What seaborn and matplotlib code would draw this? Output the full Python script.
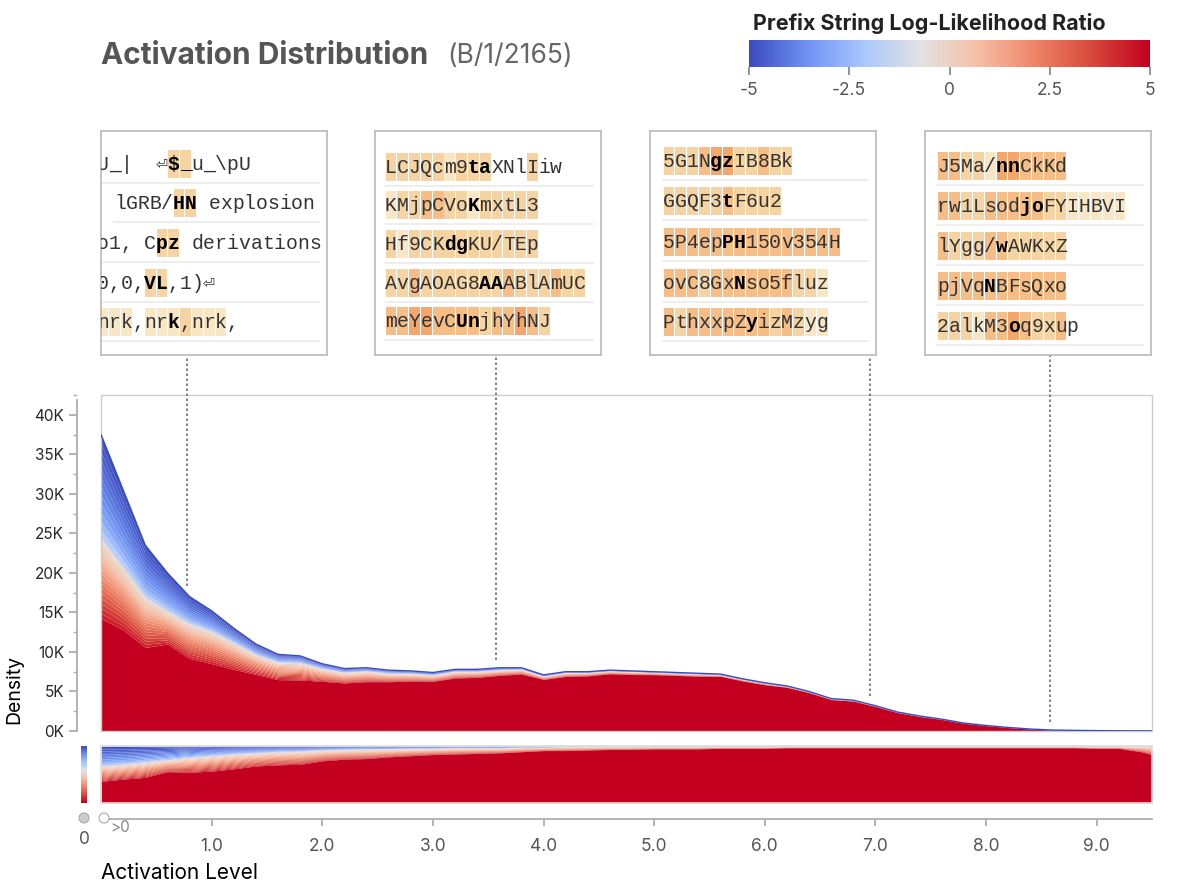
import numpy as np
import pandas as pd
import matplotlib.pyplot as plt
import seaborn as sns
from matplotlib.patches import Rectangle, Circle
from matplotlib.colors import LinearSegmentedColormap, Normalize
from matplotlib.lines import Line2D

# activation histogram (density, thousands) and LLR composition
act_x = [0.0, 0.2, 0.4, 0.6, 0.8, 1.0, 1.2, 1.4, 1.6, 1.8, 2.0, 2.2, 2.4, 2.6, 2.8, 3.0,
         3.2, 3.4, 3.6, 3.8, 4.0, 4.2, 4.4, 4.6, 4.8, 5.0, 5.2, 5.4, 5.6, 5.8, 6.0, 6.2,
         6.4, 6.6, 6.8, 7.0, 7.2, 7.4, 7.6, 7.8, 8.0, 8.2, 8.4, 8.6, 8.8, 9.0, 9.2, 9.4, 9.5]
density_k = [37.5, 30.5, 23.5, 20.0, 17.0, 15.2, 13.0, 11.0, 9.7, 9.5, 8.5, 7.9, 8.0, 7.7, 7.6, 7.4,
             7.8, 7.8, 8.0, 8.0, 7.1, 7.5, 7.5, 7.7, 7.6, 7.5, 7.4, 7.3, 7.2, 6.6, 6.1, 5.7,
             5.0, 4.1, 3.9, 3.2, 2.4, 1.9, 1.5, 1.0, 0.7, 0.45, 0.25, 0.12, 0.08, 0.05, 0.03, 0.02, 0.02]
frac_red = [0.38, 0.42, 0.45, 0.55, 0.54, 0.56, 0.60, 0.65, 0.67, 0.68, 0.74, 0.77, 0.78, 0.81, 0.83, 0.85,
            0.86, 0.87, 0.88, 0.90, 0.92, 0.92, 0.93, 0.94, 0.94, 0.95, 0.95, 0.95, 0.96, 0.96, 0.96, 0.97,
            0.97, 0.97, 0.97, 0.97, 0.97, 0.97, 0.97, 0.97, 0.97, 0.97, 0.97, 0.97, 0.97, 0.96, 0.96, 0.90, 0.85]
frac_blue = [0.35, 0.32, 0.28, 0.24, 0.20, 0.17, 0.14, 0.12, 0.10, 0.09, 0.07, 0.06, 0.05, 0.05, 0.04, 0.04,
             0.03, 0.03, 0.03, 0.02, 0.02, 0.01, 0.01, 0.01, 0.01, 0.01, 0.01, 0.01, 0.01, 0.01, 0.01, 0.01,
             0.01, 0.01, 0.01, 0.01, 0.01, 0.01, 0.01, 0.01, 0.01, 0.01, 0.01, 0.01, 0.01, 0.01, 0.01, 0.0, 0.0]

y_ticks = [0, 5, 10, 15, 20, 25, 30, 35, 40]
x_ticks = [1.0, 2.0, 3.0, 4.0, 5.0, 6.0, 7.0, 8.0, 9.0]
cbar_ticks = [-5, -2.5, 0, 2.5, 5]

# example boxes: activation position, lines, highlight levels, bold span
example_x = [0.78, 3.57, 6.95, 8.58]
example_lines = [
    ["U_|  \u23ce$_u_\\pU", "lGRB/HN explosion", "o1, Cpz derivations", "0,0,VL,1)\u23ce", "nrk,nrk,nrk,"],
    ["LCJQcm9taXNlIiw", "KMjpCVoKmxtL3", "Hf9CKdgKU/TEp", "AvgAOAG8AAABlAmUC", "meYevCUnjhYhNJ"],
    ["5G1NgzIB8Bk", "GGQF3tF6u2", "5P4epPH150v354H", "ovC8GxNso5fluz", "PthxxpZyizMzyg"],
    ["J5Ma/nnCkKd", "rw1LsodjoFYIHBVI", "lYgg/wAWKxZ", "pjVqNBFsQxo", "2alkM3oq9xup"],
]
example_levels = [
    ["000000220000", "00000220000000000", "0000022000000000000", "0000220000", "111011121110"],
    ["222221222000200", "1223322122222", "2122222222222", "22322222223222322", "33443333233432"],
    ["22234422322", "2222232222", "333333333333333", "33323333333221", "32333333323211"],
    ["33221443333", "3322333332211111", "32223322222", "33333333333", "22213343223"],
]
example_bold = [
    [(6, 8), (5, 7), (5, 7), (4, 6), (6, 7)],
    [(7, 9), (7, 8), (5, 7), (8, 10), (6, 8)],
    [(4, 6), (5, 6), (5, 7), (6, 7), (7, 8)],
    [(5, 7), (7, 9), (5, 6), (4, 5), (6, 7)],
]

W, H = 1188, 891
sns.set_theme(style="white")
plt.rcParams['font.family'] = ['Inter', 'DejaVu Sans']

fig = plt.figure(figsize=(W / 100, H / 100), dpi=100)


def px_axes(l, t, w, h):
    return fig.add_axes([l / W, 1 - (t + h) / H, w / W, h / H])


cols = ['#3b4cc0', '#6f92f3', '#aac7fd', '#e3e3e3', '#f6bfa6', '#ee8468', '#d6493b', '#c40020']
cmap = LinearSegmentedColormap.from_list('llr', cols)
norm = Normalize(-5, 5)
red = '#c40020'

x = np.array(act_x)
fr = np.array(frac_red)
fb = np.array(frac_blue)


def draw_stack(ax, total):
    ax.fill_between(x, 0, total * fr, color=red, lw=0)
    n1, n2 = 16, 12
    top_mid = 1 - fb
    for k in range(n1):
        a = fr + (top_mid - fr) * k / n1
        b = fr + (top_mid - fr) * (k + 1) / n1
        v = 4.5 - 5.0 * (k + 0.5) / n1
        ax.fill_between(x, total * a, total * b, color=cmap(norm(v)), lw=0)
    for k in range(n2):
        a = top_mid + fb * k / n2
        b = top_mid + fb * (k + 1) / n2
        v = -0.5 - 4.5 * ((k + 0.5) / n2) ** 0.4
        ax.fill_between(x, total * a, total * b, color=cmap(norm(v)), lw=0)


# main density chart
ax = px_axes(101, 395, 1051, 336)
tot = np.array(density_k)
draw_stack(ax, tot)
df = pd.DataFrame({'x': act_x, 'y': density_k})
sns.lineplot(data=df, x='x', y='y', ax=ax, color='#3b4cc0', lw=1)
ax.set_xlim(0.0, 9.5)
ax.set_ylim(0, 41.9)
ax.set_xticks([])
ax.set_yticks(y_ticks)
ax.set_yticks([t + 2.5 for t in y_ticks], minor=True)
ax.set_yticklabels([f"{t}K" for t in y_ticks], color='#555555', fontsize=12.5)
ax.tick_params(axis='y', which='major', length=6, color='#aaaaaa', left=True)
ax.tick_params(axis='y', which='minor', length=3, color='#aaaaaa', left=True)
ax.set_xlabel('')
ax.set_ylabel('')
for k, s in ax.spines.items():
    s.set_visible(k == 'left')
ax.spines['left'].set_position(('outward', 17))
ax.spines['left'].set_color('#aaaaaa')
ax.spines['left'].set_bounds(0, 41.9)
ax.add_patch(Rectangle((0, 0), 1, 1, transform=ax.transAxes, fill=False, ec='#cccccc',
                       lw=1, clip_on=False))
fig.text(14 / W, 1 - 690 / H, 'Density', rotation=90, ha='center', va='center', fontsize=14, color='black')

# normalized strip
ax2 = px_axes(101, 746, 1051, 57)
draw_stack(ax2, np.ones_like(x))
ax2.set_xlim(0.0, 9.5)
ax2.set_ylim(0, 1)
ax2.set_xticks([])
ax2.set_yticks([])
for s in ax2.spines.values():
    s.set_color('#dddddd')

# small vertical colour key (blue on top)
axk = px_axes(81, 746, 6, 57)
grad = np.linspace(-5, 5, 100).reshape(-1, 1)
axk.imshow(grad, aspect='auto', cmap=cmap, norm=norm)
axk.set_xticks([])
axk.set_yticks([])
for s in axk.spines.values():
    s.set_visible(False)

# x axis below strip
axx = px_axes(101, 818, 1051, 1)
axx.set_xlim(0.0, 9.5)
axx.set_yticks([])
axx.set_xticks(x_ticks)
axx.set_xticklabels([f"{t:.1f}" for t in x_ticks], color='#555555', fontsize=12.5)
axx.tick_params(axis='x', length=5, color='#aaaaaa', bottom=True, pad=9)
for k, s in axx.spines.items():
    s.set_visible(k == 'bottom')
axx.spines['bottom'].set_color('#aaaaaa')
fig.patches.append(Circle((84, H - 818), 5, transform=None, fc='#cccccc', ec='#aaaaaa', lw=0.8))
fig.patches.append(Circle((104, H - 818), 5, transform=None, fc='white', ec='#aaaaaa', lw=0.8))
fig.text(110 / W, 1 - 828 / H, '>0', fontsize=11, color='#888888', va='center')
fig.text(84 / W, 1 - 840 / H, '0', fontsize=12.5, color='#555555', ha='center', va='center')
fig.text(101 / W, 1 - 873 / H, 'Activation Level', fontsize=15, color='black', va='center')

# title
fig.text(101 / W, 1 - 56 / H, 'Activation Distribution', fontsize=21.5, fontweight='bold',
         color='#555555', va='center')
fig.text(447 / W, 1 - 56 / H, '(B/1/2165)', fontsize=19, color='#666666', va='center')

# colour bar
axc = px_axes(749, 40, 401, 27)
axc.imshow(np.linspace(-5, 5, 256).reshape(1, -1), aspect='auto', cmap=cmap, norm=norm,
           extent=[-5, 5, 0, 1])
axc.set_yticks([])
axc.set_xticks(cbar_ticks)
axc.set_xticklabels(['-5', '-2.5', '0', '2.5', '5'], color='#555555', fontsize=12.5)
axc.tick_params(axis='x', length=6, color='#888888', bottom=True, pad=5)
for s in axc.spines.values():
    s.set_visible(False)
fig.text(929 / W, 1 - 23 / H, 'Prefix String Log-Likelihood Ratio', fontsize=15.5,
         fontweight='bold', ha='center', va='center', color='#222222')

# example boxes
levels_col = {'1': '#f8e6c4', '2': '#f6d3a2', '3': '#f6bd86', '4': '#f5a66a'}
box_left = [101, 375, 650, 925]
box_off = [-4, 10, 13, 12]
line_y = [[33, 72, 112, 152, 191], [36, 74, 113, 152, 190],
          [30, 70, 111, 152, 191], [35, 75, 115, 155, 195]]
cw = 11.8
for i in range(4):
    bw, bh = 226, 224
    axb = px_axes(box_left[i], 131, bw, bh)
    axb.set_xlim(0, bw)
    axb.set_ylim(bh, 0)
    axb.set_xticks([])
    axb.set_yticks([])
    for s in axb.spines.values():
        s.set_color('#bbbbbb')
    for j, line in enumerate(example_lines[i]):
        y0 = line_y[i][j]
        off = box_off[i] if not (i == 0 and j == 1) else 13
        b0, b1 = example_bold[i][j]
        lvls = example_levels[i][j]
        for c, ch in enumerate(line):
            xc = off + c * cw
            lv = lvls[c] if c < len(lvls) else '0'
            if lv != '0':
                axb.add_patch(Rectangle((xc + 0.5, y0 - 14), cw - 1, 28, fc=levels_col[lv],
                                        ec='none', clip_on=True))
            bold = b0 <= c < b1
            axb.text(xc + cw / 2, y0, ch, ha='center', va='center', fontsize=14.2,
                     family=['Liberation Mono', 'DejaVu Sans Mono'],
                     fontweight='bold' if bold else 'normal',
                     color='black' if bold else '#333333', clip_on=True)
        axb.plot([max(off, 0), bw - 8], [y0 + 19, y0 + 19], color='#eeeeee', lw=1.5)

    # dotted leader from box to curve
    ex = example_x[i]
    yv = np.interp(ex, act_x, density_k) + 1.0
    disp = ax.transData.transform((ex, yv))
    xf, yf = fig.transFigure.inverted().transform(disp)
    fig.lines.append(Line2D([xf, xf], [yf, 1 - 356 / H], transform=fig.transFigure,
                            color='#888888', lw=1.5, ls=(0, (1.2, 1.2))))

fig.savefig('out.png', dpi=100)
